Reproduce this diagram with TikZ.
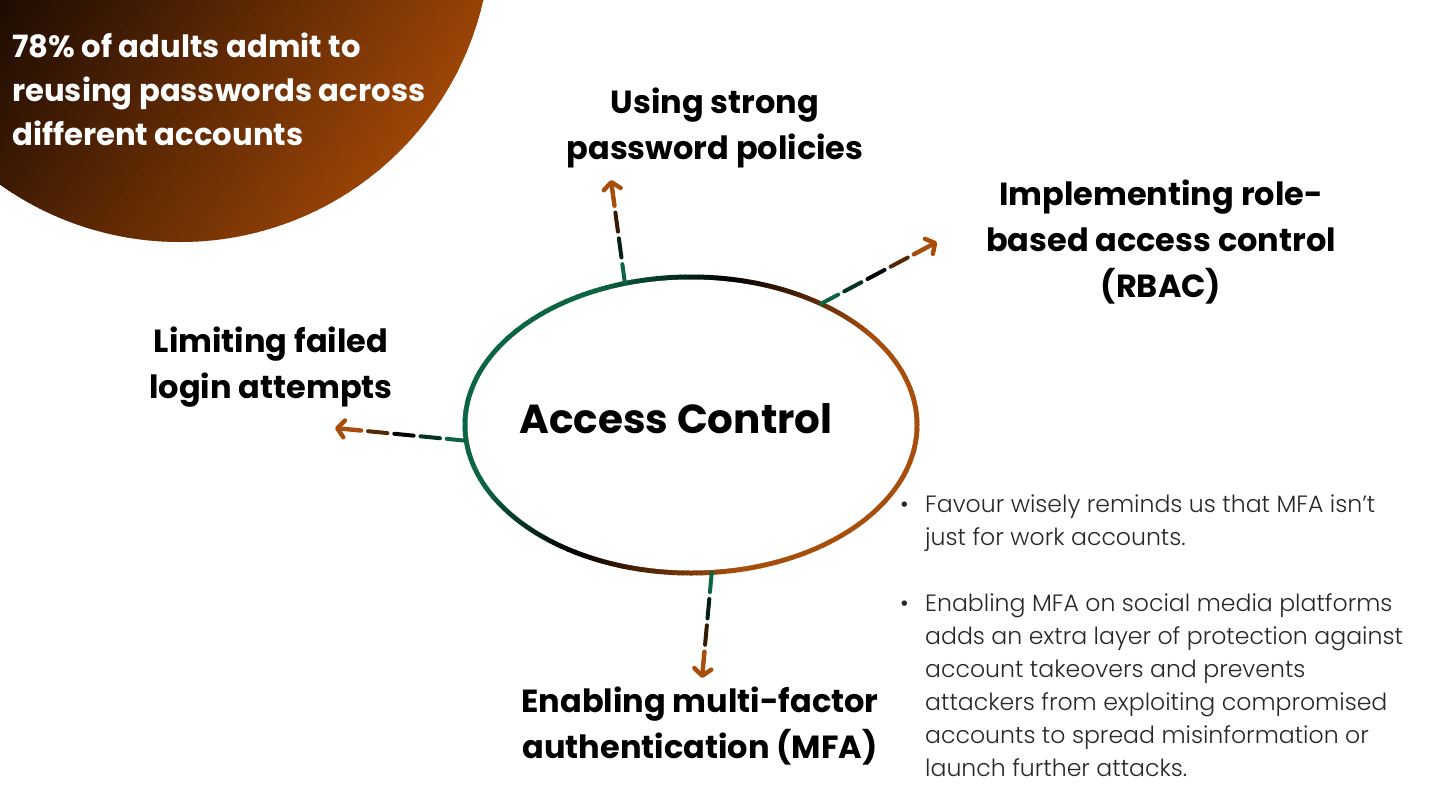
\documentclass[tikz,border=0pt]{standalone}
\usepackage{fontspec}
\setmainfont{Poppins}
\newfontfamily\lightfont{Poppins Light}
\usetikzlibrary{arrows.meta,calc,shapes.geometric}
\definecolor{acgreen}{RGB}{12,100,66}
\definecolor{acorange}{RGB}{168,78,12}
\definecolor{cdark}{RGB}{24,9,2}
\definecolor{corange}{RGB}{158,70,6}
\definecolor{bodygray}{RGB}{40,40,40}
\tikzset{
  heading/.style={font=\bfseries\fontsize{32}{46}\selectfont, align=center, text=black, inner sep=0pt},
  titletext/.style={font=\bfseries\fontsize{40.5}{50}\selectfont, text=black, inner sep=0pt},
  statext/.style={font=\bfseries\fontsize{30.7}{44}\selectfont, align=left, text=white, inner sep=0pt},
  bodytext/.style={font=\lightfont\fontsize{23.6}{33}\selectfont, align=left, text=bodygray, inner sep=0pt},
  ringnode/.style={ellipse, minimum width=452pt, minimum height=296pt, inner sep=0pt},
}
\newcommand\gradarrow[3]{%
  \foreach \i in {1,...,#3}{%
    \pgfmathsetmacro\ta{(\i-1)/#3}%
    \pgfmathsetmacro\tb{(\i-1+0.74)/#3}%
    \pgfmathsetmacro\tm{(\i-1)/(#3-1)}%
    \pgfmathtruncatemacro\pg{max(0,100-200*\tm)}%
    \pgfmathtruncatemacro\po{max(0,200*\tm-100)}%
    \pgfmathtruncatemacro\q{100-\pg}%
    \colorlet{dashcol}{acorange!\po!black!\q!acgreen}%
    \ifnum\i=#3\relax
      \draw[dashcol, line width=4.4pt, line cap=round, line join=round, -{Straight Barb[length=7pt,width=17pt,round]}] ($(#1)!\ta!(#2)$) -- (#2);
    \else
      \draw[dashcol, line width=4pt, line cap=round] ($(#1)!\ta!(#2)$) -- ($(#1)!\tb!(#2)$);
    \fi
  }%
}
\begin{document}
\begin{tikzpicture}[x=1pt,y=-1pt]
\useasboundingbox (0,0) rectangle (1430,804);
\fill[white] (0,0) rectangle (1430,804);
% corner disc with diagonal gradient
\begin{scope}
  \clip (180,-69) circle (311pt);
  \begin{scope}[rotate=-35]
    \foreach \s in {-120,-116,...,640}{%
      \pgfmathtruncatemacro\f{min(100,max(0,(\s+20)/440*100))}%
      \colorlet{stripecol}{corange!\f!cdark}%
      \fill[stripecol] (\s-0.4,-700) rectangle (\s+4.4,700);
    }
  \end{scope}
\end{scope}
\node[statext, anchor=west] (stat) at (12,89) {78\% of adults admit to\\reusing passwords across\\different accounts};
% central ring with green-black-orange gradient stroke
\node[ringnode] (ring) at (691,425) {};
\begin{scope}
  \clip (691,425) ellipse [x radius=228.5pt, y radius=150.5pt];
  \begin{scope}[shift={(691,425)}, rotate=-30]
    \foreach \s in {-260,-256,...,260}{%
      \pgfmathsetmacro\sp{\s+40}%
      \pgfmathtruncatemacro\g{min(100,max(0,-\sp/110*100))}%
      \pgfmathtruncatemacro\o{min(100,max(0,\sp/150*100))}%
      \pgfmathtruncatemacro\q{100-\g}%
      \colorlet{stripecol}{acorange!\o!black!\q!acgreen}%
      \fill[stripecol] (\s-0.4,-400) rectangle (\s+4.4,400);
    }
  \end{scope}
\end{scope}
\fill[white] (691,425) ellipse [x radius=223.5pt, y radius=145.5pt];
\node[titletext] (title) at (676,419) {Access Control};
% headings
\node[heading] (pwd) at (715,128) {Using strong\\password policies};
\node[heading] (rbac) at (1161,242) {Implementing role-\\based access control\\(RBAC)};
\node[heading] (limit) at (271,367) {Limiting failed\\login attempts};
\node[heading] (mfa) at (700,726) {Enabling multi-factor\\authentication (MFA)};
% connector tips
\coordinate (tpwd) at (611,180);
\coordinate (trbac) at (937,242);
\coordinate (tlimit) at (335,428);
\coordinate (tmfa) at (702,678);
\gradarrow{ring.115}{tpwd}{4}
\gradarrow{ring.43.6}{trbac}{5}
\gradarrow{ring.184.6}{tlimit}{5}
\gradarrow{ring.278}{tmfa}{4}
% notes
\node[bodytext, anchor=north west] (notes) at (900,495) {%
\makebox[25pt][l]{\textbullet}Favour wisely reminds us that MFA isn’t\\
\hspace*{25pt}just for work accounts.\\[33pt]
\makebox[25pt][l]{\textbullet}Enabling MFA on social media platforms\\
\hspace*{25pt}adds an extra layer of protection against\\
\hspace*{25pt}account takeovers and prevents\\
\hspace*{25pt}attackers from exploiting compromised\\
\hspace*{25pt}accounts to spread misinformation or\\
\hspace*{25pt}launch further attacks.};
\end{tikzpicture}
\end{document}
